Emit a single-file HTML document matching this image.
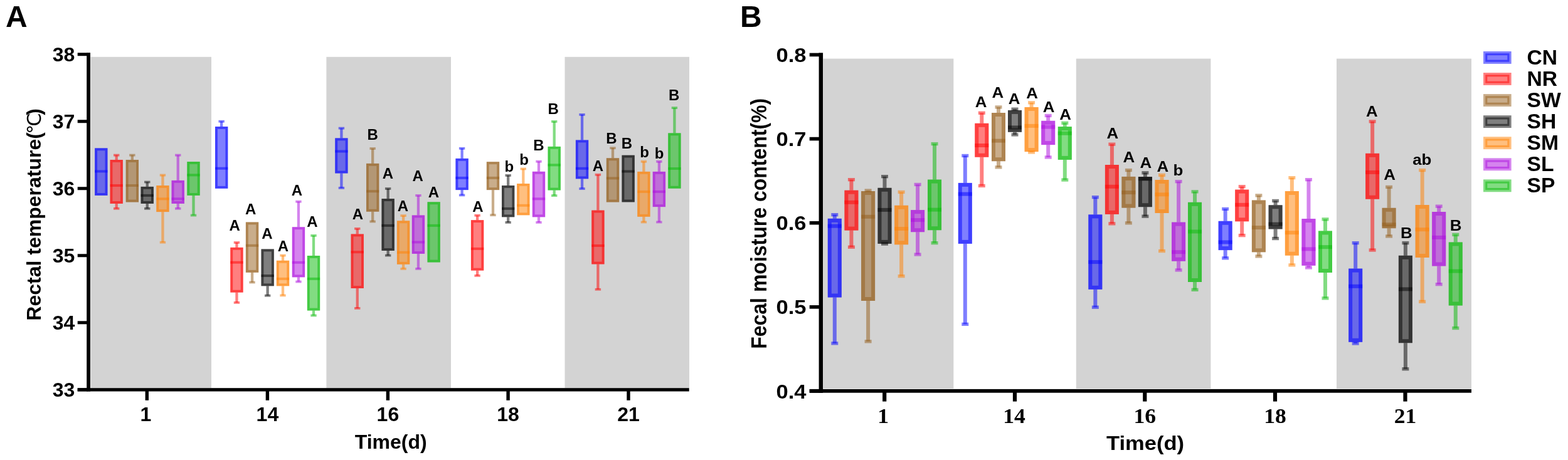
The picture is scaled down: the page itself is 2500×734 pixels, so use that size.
<!DOCTYPE html>
<html><head><meta charset="utf-8"><title>Figure</title>
<style>html,body{margin:0;padding:0;background:#fff;}svg{display:block;}text{font-family:'Liberation Sans', Arial, Helvetica, sans-serif;font-weight:bold;fill:#000;}.serif{font-family:'Liberation Serif', 'Times New Roman', serif;}</style>
</head><body>
<svg width="2500" height="734" viewBox="0 0 2500 734">
<rect x="0" y="0" width="2500" height="734" fill="#fff"/>
<rect x="144.6" y="90.8" width="192.4" height="528.4" fill="#d3d3d3"/>
<rect x="520.4" y="90.8" width="198.6" height="528.4" fill="#d3d3d3"/>
<rect x="900.5" y="90.8" width="198.5" height="528.4" fill="#d3d3d3"/>
<rect x="151.15" y="236.4" width="20.3" height="75.5" fill="rgb(0,0,255)" fill-opacity=".5"/>
<rect x="153.1" y="238.35" width="16.4" height="71.6" fill="none" stroke="rgb(0,0,255)" stroke-opacity=".5" stroke-width="3.9"/>
<rect x="151.15" y="271.4" width="20.3" height="4" fill="rgb(0,0,255)" fill-opacity=".5"/>
<rect x="183.55" y="247.6" width="4.3" height="7.4" fill="rgb(255,0,0)" fill-opacity=".5"/>
<rect x="181" y="245.7" width="9.4" height="3.8" fill="rgb(255,0,0)" fill-opacity=".5"/>
<rect x="183.55" y="324.9" width="4.3" height="7.9" fill="rgb(255,0,0)" fill-opacity=".5"/>
<rect x="181" y="330.9" width="9.4" height="3.8" fill="rgb(255,0,0)" fill-opacity=".5"/>
<rect x="175.55" y="255" width="20.3" height="69.9" fill="rgb(255,0,0)" fill-opacity=".5"/>
<rect x="177.5" y="256.95" width="16.4" height="66" fill="none" stroke="rgb(255,0,0)" stroke-opacity=".5" stroke-width="3.9"/>
<rect x="175.55" y="294" width="20.3" height="4" fill="rgb(255,0,0)" fill-opacity=".5"/>
<rect x="208.7" y="247.6" width="4.3" height="7.4" fill="rgb(148,92,24)" fill-opacity=".5"/>
<rect x="206.15" y="245.7" width="9.4" height="3.8" fill="rgb(148,92,24)" fill-opacity=".5"/>
<rect x="200.7" y="255" width="20.3" height="67.5" fill="rgb(148,92,24)" fill-opacity=".5"/>
<rect x="202.65" y="256.95" width="16.4" height="63.6" fill="none" stroke="rgb(148,92,24)" stroke-opacity=".5" stroke-width="3.9"/>
<rect x="200.7" y="294" width="20.3" height="4" fill="rgb(148,92,24)" fill-opacity=".5"/>
<rect x="232.6" y="290.5" width="4.3" height="7.4" fill="rgb(0,0,0)" fill-opacity=".5"/>
<rect x="230.05" y="288.6" width="9.4" height="3.8" fill="rgb(0,0,0)" fill-opacity=".5"/>
<rect x="232.6" y="324.9" width="4.3" height="7.9" fill="rgb(0,0,0)" fill-opacity=".5"/>
<rect x="230.05" y="330.9" width="9.4" height="3.8" fill="rgb(0,0,0)" fill-opacity=".5"/>
<rect x="224.6" y="297.9" width="20.3" height="27" fill="rgb(0,0,0)" fill-opacity=".5"/>
<rect x="226.55" y="299.85" width="16.4" height="23.1" fill="none" stroke="rgb(0,0,0)" stroke-opacity=".5" stroke-width="3.9"/>
<rect x="224.6" y="309.9" width="20.3" height="4" fill="rgb(0,0,0)" fill-opacity=".5"/>
<rect x="257.3" y="279.5" width="4.3" height="16.5" fill="rgb(255,128,0)" fill-opacity=".5"/>
<rect x="254.75" y="277.6" width="9.4" height="3.8" fill="rgb(255,128,0)" fill-opacity=".5"/>
<rect x="257.3" y="338.1" width="4.3" height="48.6" fill="rgb(255,128,0)" fill-opacity=".5"/>
<rect x="254.75" y="384.8" width="9.4" height="3.8" fill="rgb(255,128,0)" fill-opacity=".5"/>
<rect x="249.3" y="296" width="20.3" height="42.1" fill="rgb(255,128,0)" fill-opacity=".5"/>
<rect x="251.25" y="297.95" width="16.4" height="38.2" fill="none" stroke="rgb(255,128,0)" stroke-opacity=".5" stroke-width="3.9"/>
<rect x="249.3" y="315.3" width="20.3" height="4" fill="rgb(255,128,0)" fill-opacity=".5"/>
<rect x="281.6" y="247.6" width="4.3" height="40.3" fill="rgb(172,10,222)" fill-opacity=".5"/>
<rect x="279.05" y="245.7" width="9.4" height="3.8" fill="rgb(172,10,222)" fill-opacity=".5"/>
<rect x="281.6" y="324.9" width="4.3" height="7.9" fill="rgb(172,10,222)" fill-opacity=".5"/>
<rect x="279.05" y="330.9" width="9.4" height="3.8" fill="rgb(172,10,222)" fill-opacity=".5"/>
<rect x="273.6" y="287.9" width="20.3" height="37" fill="rgb(172,10,222)" fill-opacity=".5"/>
<rect x="275.55" y="289.85" width="16.4" height="33.1" fill="none" stroke="rgb(172,10,222)" stroke-opacity=".5" stroke-width="3.9"/>
<rect x="273.6" y="315.3" width="20.3" height="4" fill="rgb(172,10,222)" fill-opacity=".5"/>
<rect x="306.35" y="311.9" width="4.3" height="31.7" fill="rgb(5,185,5)" fill-opacity=".5"/>
<rect x="303.8" y="341.7" width="9.4" height="3.8" fill="rgb(5,185,5)" fill-opacity=".5"/>
<rect x="298.35" y="258" width="20.3" height="53.9" fill="rgb(5,185,5)" fill-opacity=".5"/>
<rect x="300.3" y="259.95" width="16.4" height="50" fill="none" stroke="rgb(5,185,5)" stroke-opacity=".5" stroke-width="3.9"/>
<rect x="298.35" y="277.3" width="20.3" height="4" fill="rgb(5,185,5)" fill-opacity=".5"/>
<rect x="351" y="193.7" width="4.3" height="8.3" fill="rgb(0,0,255)" fill-opacity=".5"/>
<rect x="348.45" y="191.8" width="9.4" height="3.8" fill="rgb(0,0,255)" fill-opacity=".5"/>
<rect x="343" y="202" width="20.3" height="98.8" fill="rgb(0,0,255)" fill-opacity=".5"/>
<rect x="344.95" y="203.95" width="16.4" height="94.9" fill="none" stroke="rgb(0,0,255)" stroke-opacity=".5" stroke-width="3.9"/>
<rect x="343" y="266.7" width="20.3" height="4" fill="rgb(0,0,255)" fill-opacity=".5"/>
<rect x="375.3" y="387" width="4.3" height="7.9" fill="rgb(255,0,0)" fill-opacity=".5"/>
<rect x="372.75" y="385.1" width="9.4" height="3.8" fill="rgb(255,0,0)" fill-opacity=".5"/>
<rect x="375.3" y="466.6" width="4.3" height="16.3" fill="rgb(255,0,0)" fill-opacity=".5"/>
<rect x="372.75" y="481" width="9.4" height="3.8" fill="rgb(255,0,0)" fill-opacity=".5"/>
<rect x="367.3" y="394.9" width="20.3" height="71.7" fill="rgb(255,0,0)" fill-opacity=".5"/>
<rect x="369.25" y="396.85" width="16.4" height="67.8" fill="none" stroke="rgb(255,0,0)" stroke-opacity=".5" stroke-width="3.9"/>
<rect x="367.3" y="416.7" width="20.3" height="4" fill="rgb(255,0,0)" fill-opacity=".5"/>
<rect x="399.9" y="434.8" width="4.3" height="15.7" fill="rgb(148,92,24)" fill-opacity=".5"/>
<rect x="397.35" y="448.6" width="9.4" height="3.8" fill="rgb(148,92,24)" fill-opacity=".5"/>
<rect x="391.9" y="354.5" width="20.3" height="80.3" fill="rgb(148,92,24)" fill-opacity=".5"/>
<rect x="393.85" y="356.45" width="16.4" height="76.4" fill="none" stroke="rgb(148,92,24)" stroke-opacity=".5" stroke-width="3.9"/>
<rect x="391.9" y="389.8" width="20.3" height="4" fill="rgb(148,92,24)" fill-opacity=".5"/>
<rect x="424.5" y="456.3" width="4.3" height="15.4" fill="rgb(0,0,0)" fill-opacity=".5"/>
<rect x="421.95" y="469.8" width="9.4" height="3.8" fill="rgb(0,0,0)" fill-opacity=".5"/>
<rect x="416.5" y="397.5" width="20.3" height="58.8" fill="rgb(0,0,0)" fill-opacity=".5"/>
<rect x="418.45" y="399.45" width="16.4" height="54.9" fill="none" stroke="rgb(0,0,0)" stroke-opacity=".5" stroke-width="3.9"/>
<rect x="416.5" y="438" width="20.3" height="4" fill="rgb(0,0,0)" fill-opacity=".5"/>
<rect x="448.85" y="407.6" width="4.3" height="8.2" fill="rgb(255,128,0)" fill-opacity=".5"/>
<rect x="446.3" y="405.7" width="9.4" height="3.8" fill="rgb(255,128,0)" fill-opacity=".5"/>
<rect x="448.85" y="456.3" width="4.3" height="15.1" fill="rgb(255,128,0)" fill-opacity=".5"/>
<rect x="446.3" y="469.5" width="9.4" height="3.8" fill="rgb(255,128,0)" fill-opacity=".5"/>
<rect x="440.85" y="415.8" width="20.3" height="40.5" fill="rgb(255,128,0)" fill-opacity=".5"/>
<rect x="442.8" y="417.75" width="16.4" height="36.6" fill="none" stroke="rgb(255,128,0)" stroke-opacity=".5" stroke-width="3.9"/>
<rect x="440.85" y="442.9" width="20.3" height="4" fill="rgb(255,128,0)" fill-opacity=".5"/>
<rect x="473.8" y="321.7" width="4.3" height="40.6" fill="rgb(172,10,222)" fill-opacity=".5"/>
<rect x="471.25" y="319.8" width="9.4" height="3.8" fill="rgb(172,10,222)" fill-opacity=".5"/>
<rect x="473.8" y="442.3" width="4.3" height="7.2" fill="rgb(172,10,222)" fill-opacity=".5"/>
<rect x="471.25" y="447.6" width="9.4" height="3.8" fill="rgb(172,10,222)" fill-opacity=".5"/>
<rect x="465.8" y="362.3" width="20.3" height="80" fill="rgb(172,10,222)" fill-opacity=".5"/>
<rect x="467.75" y="364.25" width="16.4" height="76.1" fill="none" stroke="rgb(172,10,222)" stroke-opacity=".5" stroke-width="3.9"/>
<rect x="465.8" y="416.8" width="20.3" height="4" fill="rgb(172,10,222)" fill-opacity=".5"/>
<rect x="497.85" y="375.9" width="4.3" height="32.1" fill="rgb(5,185,5)" fill-opacity=".5"/>
<rect x="495.3" y="374" width="9.4" height="3.8" fill="rgb(5,185,5)" fill-opacity=".5"/>
<rect x="497.85" y="495.5" width="4.3" height="7.9" fill="rgb(5,185,5)" fill-opacity=".5"/>
<rect x="495.3" y="501.5" width="9.4" height="3.8" fill="rgb(5,185,5)" fill-opacity=".5"/>
<rect x="489.85" y="408" width="20.3" height="87.5" fill="rgb(5,185,5)" fill-opacity=".5"/>
<rect x="491.8" y="409.95" width="16.4" height="83.6" fill="none" stroke="rgb(5,185,5)" stroke-opacity=".5" stroke-width="3.9"/>
<rect x="489.85" y="442.9" width="20.3" height="4" fill="rgb(5,185,5)" fill-opacity=".5"/>
<rect x="542.25" y="204.6" width="4.3" height="15.8" fill="rgb(0,0,255)" fill-opacity=".5"/>
<rect x="539.7" y="202.7" width="9.4" height="3.8" fill="rgb(0,0,255)" fill-opacity=".5"/>
<rect x="542.25" y="276.5" width="4.3" height="23.4" fill="rgb(0,0,255)" fill-opacity=".5"/>
<rect x="539.7" y="298" width="9.4" height="3.8" fill="rgb(0,0,255)" fill-opacity=".5"/>
<rect x="534.25" y="220.4" width="20.3" height="56.1" fill="rgb(0,0,255)" fill-opacity=".5"/>
<rect x="536.2" y="222.35" width="16.4" height="52.2" fill="none" stroke="rgb(0,0,255)" stroke-opacity=".5" stroke-width="3.9"/>
<rect x="534.25" y="239.5" width="20.3" height="4" fill="rgb(0,0,255)" fill-opacity=".5"/>
<rect x="567.6" y="364.9" width="4.3" height="8.6" fill="rgb(255,0,0)" fill-opacity=".5"/>
<rect x="565.05" y="363" width="9.4" height="3.8" fill="rgb(255,0,0)" fill-opacity=".5"/>
<rect x="567.6" y="460" width="4.3" height="31.9" fill="rgb(255,0,0)" fill-opacity=".5"/>
<rect x="565.05" y="490" width="9.4" height="3.8" fill="rgb(255,0,0)" fill-opacity=".5"/>
<rect x="559.6" y="373.5" width="20.3" height="86.5" fill="rgb(255,0,0)" fill-opacity=".5"/>
<rect x="561.55" y="375.45" width="16.4" height="82.6" fill="none" stroke="rgb(255,0,0)" stroke-opacity=".5" stroke-width="3.9"/>
<rect x="559.6" y="400.2" width="20.3" height="4" fill="rgb(255,0,0)" fill-opacity=".5"/>
<rect x="592" y="237" width="4.3" height="23.9" fill="rgb(148,92,24)" fill-opacity=".5"/>
<rect x="589.45" y="235.1" width="9.4" height="3.8" fill="rgb(148,92,24)" fill-opacity=".5"/>
<rect x="592" y="337.7" width="4.3" height="15.8" fill="rgb(148,92,24)" fill-opacity=".5"/>
<rect x="589.45" y="351.6" width="9.4" height="3.8" fill="rgb(148,92,24)" fill-opacity=".5"/>
<rect x="584" y="260.9" width="20.3" height="76.8" fill="rgb(148,92,24)" fill-opacity=".5"/>
<rect x="585.95" y="262.85" width="16.4" height="72.9" fill="none" stroke="rgb(148,92,24)" stroke-opacity=".5" stroke-width="3.9"/>
<rect x="584" y="303.2" width="20.3" height="4" fill="rgb(148,92,24)" fill-opacity=".5"/>
<rect x="616.5" y="301" width="4.3" height="16.1" fill="rgb(0,0,0)" fill-opacity=".5"/>
<rect x="613.95" y="299.1" width="9.4" height="3.8" fill="rgb(0,0,0)" fill-opacity=".5"/>
<rect x="616.5" y="400" width="4.3" height="7.6" fill="rgb(0,0,0)" fill-opacity=".5"/>
<rect x="613.95" y="405.7" width="9.4" height="3.8" fill="rgb(0,0,0)" fill-opacity=".5"/>
<rect x="608.5" y="317.1" width="20.3" height="82.9" fill="rgb(0,0,0)" fill-opacity=".5"/>
<rect x="610.45" y="319.05" width="16.4" height="79" fill="none" stroke="rgb(0,0,0)" stroke-opacity=".5" stroke-width="3.9"/>
<rect x="608.5" y="357.9" width="20.3" height="4" fill="rgb(0,0,0)" fill-opacity=".5"/>
<rect x="640.95" y="344.1" width="4.3" height="8.2" fill="rgb(255,128,0)" fill-opacity=".5"/>
<rect x="638.4" y="342.2" width="9.4" height="3.8" fill="rgb(255,128,0)" fill-opacity=".5"/>
<rect x="640.95" y="421.8" width="4.3" height="7.1" fill="rgb(255,128,0)" fill-opacity=".5"/>
<rect x="638.4" y="427" width="9.4" height="3.8" fill="rgb(255,128,0)" fill-opacity=".5"/>
<rect x="632.95" y="352.3" width="20.3" height="69.5" fill="rgb(255,128,0)" fill-opacity=".5"/>
<rect x="634.9" y="354.25" width="16.4" height="65.6" fill="none" stroke="rgb(255,128,0)" stroke-opacity=".5" stroke-width="3.9"/>
<rect x="632.95" y="400.7" width="20.3" height="4" fill="rgb(255,128,0)" fill-opacity=".5"/>
<rect x="664.8" y="311.9" width="4.3" height="31.6" fill="rgb(172,10,222)" fill-opacity=".5"/>
<rect x="662.25" y="310" width="9.4" height="3.8" fill="rgb(172,10,222)" fill-opacity=".5"/>
<rect x="664.8" y="404.9" width="4.3" height="24" fill="rgb(172,10,222)" fill-opacity=".5"/>
<rect x="662.25" y="427" width="9.4" height="3.8" fill="rgb(172,10,222)" fill-opacity=".5"/>
<rect x="656.8" y="343.5" width="20.3" height="61.4" fill="rgb(172,10,222)" fill-opacity=".5"/>
<rect x="658.75" y="345.45" width="16.4" height="57.5" fill="none" stroke="rgb(172,10,222)" stroke-opacity=".5" stroke-width="3.9"/>
<rect x="656.8" y="384.4" width="20.3" height="4" fill="rgb(172,10,222)" fill-opacity=".5"/>
<rect x="681.5" y="322.3" width="20.3" height="96.2" fill="rgb(5,185,5)" fill-opacity=".5"/>
<rect x="683.45" y="324.25" width="16.4" height="92.3" fill="none" stroke="rgb(5,185,5)" stroke-opacity=".5" stroke-width="3.9"/>
<rect x="681.5" y="357.9" width="20.3" height="4" fill="rgb(5,185,5)" fill-opacity=".5"/>
<rect x="734.45" y="236.8" width="4.3" height="16.1" fill="rgb(0,0,255)" fill-opacity=".5"/>
<rect x="731.9" y="234.9" width="9.4" height="3.8" fill="rgb(0,0,255)" fill-opacity=".5"/>
<rect x="734.45" y="303.1" width="4.3" height="8.3" fill="rgb(0,0,255)" fill-opacity=".5"/>
<rect x="731.9" y="309.5" width="9.4" height="3.8" fill="rgb(0,0,255)" fill-opacity=".5"/>
<rect x="726.45" y="252.9" width="20.3" height="50.2" fill="rgb(0,0,255)" fill-opacity=".5"/>
<rect x="728.4" y="254.85" width="16.4" height="46.3" fill="none" stroke="rgb(0,0,255)" stroke-opacity=".5" stroke-width="3.9"/>
<rect x="726.45" y="281.9" width="20.3" height="4" fill="rgb(0,0,255)" fill-opacity=".5"/>
<rect x="758.95" y="343.7" width="4.3" height="7.5" fill="rgb(255,0,0)" fill-opacity=".5"/>
<rect x="756.4" y="341.8" width="9.4" height="3.8" fill="rgb(255,0,0)" fill-opacity=".5"/>
<rect x="758.95" y="431.6" width="4.3" height="8.3" fill="rgb(255,0,0)" fill-opacity=".5"/>
<rect x="756.4" y="438" width="9.4" height="3.8" fill="rgb(255,0,0)" fill-opacity=".5"/>
<rect x="750.95" y="351.2" width="20.3" height="80.4" fill="rgb(255,0,0)" fill-opacity=".5"/>
<rect x="752.9" y="353.15" width="16.4" height="76.5" fill="none" stroke="rgb(255,0,0)" stroke-opacity=".5" stroke-width="3.9"/>
<rect x="750.95" y="394.9" width="20.3" height="4" fill="rgb(255,0,0)" fill-opacity=".5"/>
<rect x="783.85" y="303.1" width="4.3" height="40.1" fill="rgb(148,92,24)" fill-opacity=".5"/>
<rect x="781.3" y="341.3" width="9.4" height="3.8" fill="rgb(148,92,24)" fill-opacity=".5"/>
<rect x="775.85" y="258.2" width="20.3" height="44.9" fill="rgb(148,92,24)" fill-opacity=".5"/>
<rect x="777.8" y="260.15" width="16.4" height="41" fill="none" stroke="rgb(148,92,24)" stroke-opacity=".5" stroke-width="3.9"/>
<rect x="775.85" y="281.9" width="20.3" height="4" fill="rgb(148,92,24)" fill-opacity=".5"/>
<rect x="808" y="279.9" width="4.3" height="16.1" fill="rgb(0,0,0)" fill-opacity=".5"/>
<rect x="805.45" y="278" width="9.4" height="3.8" fill="rgb(0,0,0)" fill-opacity=".5"/>
<rect x="808" y="346.3" width="4.3" height="8.6" fill="rgb(0,0,0)" fill-opacity=".5"/>
<rect x="805.45" y="353" width="9.4" height="3.8" fill="rgb(0,0,0)" fill-opacity=".5"/>
<rect x="800" y="296" width="20.3" height="50.3" fill="rgb(0,0,0)" fill-opacity=".5"/>
<rect x="801.95" y="297.95" width="16.4" height="46.4" fill="none" stroke="rgb(0,0,0)" stroke-opacity=".5" stroke-width="3.9"/>
<rect x="800" y="330.9" width="20.3" height="4" fill="rgb(0,0,0)" fill-opacity=".5"/>
<rect x="832.15" y="269.4" width="4.3" height="23.6" fill="rgb(255,128,0)" fill-opacity=".5"/>
<rect x="829.6" y="267.5" width="9.4" height="3.8" fill="rgb(255,128,0)" fill-opacity=".5"/>
<rect x="824.15" y="293" width="20.3" height="50.3" fill="rgb(255,128,0)" fill-opacity=".5"/>
<rect x="826.1" y="294.95" width="16.4" height="46.4" fill="none" stroke="rgb(255,128,0)" stroke-opacity=".5" stroke-width="3.9"/>
<rect x="824.15" y="325.8" width="20.3" height="4" fill="rgb(255,128,0)" fill-opacity=".5"/>
<rect x="856.85" y="257.7" width="4.3" height="16.1" fill="rgb(172,10,222)" fill-opacity=".5"/>
<rect x="854.3" y="255.8" width="9.4" height="3.8" fill="rgb(172,10,222)" fill-opacity=".5"/>
<rect x="856.85" y="346.3" width="4.3" height="8.6" fill="rgb(172,10,222)" fill-opacity=".5"/>
<rect x="854.3" y="353" width="9.4" height="3.8" fill="rgb(172,10,222)" fill-opacity=".5"/>
<rect x="848.85" y="273.8" width="20.3" height="72.5" fill="rgb(172,10,222)" fill-opacity=".5"/>
<rect x="850.8" y="275.75" width="16.4" height="68.6" fill="none" stroke="rgb(172,10,222)" stroke-opacity=".5" stroke-width="3.9"/>
<rect x="848.85" y="315.3" width="20.3" height="4" fill="rgb(172,10,222)" fill-opacity=".5"/>
<rect x="881.55" y="193.9" width="4.3" height="40" fill="rgb(5,185,5)" fill-opacity=".5"/>
<rect x="879" y="192" width="9.4" height="3.8" fill="rgb(5,185,5)" fill-opacity=".5"/>
<rect x="881.55" y="303.5" width="4.3" height="8.6" fill="rgb(5,185,5)" fill-opacity=".5"/>
<rect x="879" y="310.2" width="9.4" height="3.8" fill="rgb(5,185,5)" fill-opacity=".5"/>
<rect x="873.55" y="233.9" width="20.3" height="69.6" fill="rgb(5,185,5)" fill-opacity=".5"/>
<rect x="875.5" y="235.85" width="16.4" height="65.7" fill="none" stroke="rgb(5,185,5)" stroke-opacity=".5" stroke-width="3.9"/>
<rect x="873.55" y="261.3" width="20.3" height="4" fill="rgb(5,185,5)" fill-opacity=".5"/>
<rect x="925.9" y="182.9" width="4.3" height="40.6" fill="rgb(0,0,255)" fill-opacity=".5"/>
<rect x="923.35" y="181" width="9.4" height="3.8" fill="rgb(0,0,255)" fill-opacity=".5"/>
<rect x="925.9" y="285.3" width="4.3" height="15.8" fill="rgb(0,0,255)" fill-opacity=".5"/>
<rect x="923.35" y="299.2" width="9.4" height="3.8" fill="rgb(0,0,255)" fill-opacity=".5"/>
<rect x="917.9" y="223.5" width="20.3" height="61.8" fill="rgb(0,0,255)" fill-opacity=".5"/>
<rect x="919.85" y="225.45" width="16.4" height="57.9" fill="none" stroke="rgb(0,0,255)" stroke-opacity=".5" stroke-width="3.9"/>
<rect x="917.9" y="266.8" width="20.3" height="4" fill="rgb(0,0,255)" fill-opacity=".5"/>
<rect x="951.25" y="278.8" width="4.3" height="56.8" fill="rgb(255,0,0)" fill-opacity=".5"/>
<rect x="948.7" y="276.9" width="9.4" height="3.8" fill="rgb(255,0,0)" fill-opacity=".5"/>
<rect x="951.25" y="421.5" width="4.3" height="40.3" fill="rgb(255,0,0)" fill-opacity=".5"/>
<rect x="948.7" y="459.9" width="9.4" height="3.8" fill="rgb(255,0,0)" fill-opacity=".5"/>
<rect x="943.25" y="335.6" width="20.3" height="85.9" fill="rgb(255,0,0)" fill-opacity=".5"/>
<rect x="945.2" y="337.55" width="16.4" height="82" fill="none" stroke="rgb(255,0,0)" stroke-opacity=".5" stroke-width="3.9"/>
<rect x="943.25" y="390" width="20.3" height="4" fill="rgb(255,0,0)" fill-opacity=".5"/>
<rect x="974.85" y="236.2" width="4.3" height="16.1" fill="rgb(148,92,24)" fill-opacity=".5"/>
<rect x="972.3" y="234.3" width="9.4" height="3.8" fill="rgb(148,92,24)" fill-opacity=".5"/>
<rect x="966.85" y="252.3" width="20.3" height="70.2" fill="rgb(148,92,24)" fill-opacity=".5"/>
<rect x="968.8" y="254.25" width="16.4" height="66.3" fill="none" stroke="rgb(148,92,24)" stroke-opacity=".5" stroke-width="3.9"/>
<rect x="966.85" y="282.4" width="20.3" height="4" fill="rgb(148,92,24)" fill-opacity=".5"/>
<rect x="991.5" y="247.7" width="20.3" height="74.7" fill="rgb(0,0,0)" fill-opacity=".5"/>
<rect x="993.45" y="249.65" width="16.4" height="70.8" fill="none" stroke="rgb(0,0,0)" stroke-opacity=".5" stroke-width="3.9"/>
<rect x="991.5" y="271.5" width="20.3" height="4" fill="rgb(0,0,0)" fill-opacity=".5"/>
<rect x="1024.25" y="257.8" width="4.3" height="16.1" fill="rgb(255,128,0)" fill-opacity=".5"/>
<rect x="1021.7" y="255.9" width="9.4" height="3.8" fill="rgb(255,128,0)" fill-opacity=".5"/>
<rect x="1024.25" y="345.8" width="4.3" height="8.6" fill="rgb(255,128,0)" fill-opacity=".5"/>
<rect x="1021.7" y="352.5" width="9.4" height="3.8" fill="rgb(255,128,0)" fill-opacity=".5"/>
<rect x="1016.25" y="273.9" width="20.3" height="71.9" fill="rgb(255,128,0)" fill-opacity=".5"/>
<rect x="1018.2" y="275.85" width="16.4" height="68" fill="none" stroke="rgb(255,128,0)" stroke-opacity=".5" stroke-width="3.9"/>
<rect x="1016.25" y="303.9" width="20.3" height="4" fill="rgb(255,128,0)" fill-opacity=".5"/>
<rect x="1048.75" y="257.8" width="4.3" height="16.1" fill="rgb(172,10,222)" fill-opacity=".5"/>
<rect x="1046.2" y="255.9" width="9.4" height="3.8" fill="rgb(172,10,222)" fill-opacity=".5"/>
<rect x="1048.75" y="330.1" width="4.3" height="24.3" fill="rgb(172,10,222)" fill-opacity=".5"/>
<rect x="1046.2" y="352.5" width="9.4" height="3.8" fill="rgb(172,10,222)" fill-opacity=".5"/>
<rect x="1040.75" y="273.9" width="20.3" height="56.2" fill="rgb(172,10,222)" fill-opacity=".5"/>
<rect x="1042.7" y="275.85" width="16.4" height="52.3" fill="none" stroke="rgb(172,10,222)" stroke-opacity=".5" stroke-width="3.9"/>
<rect x="1040.75" y="303.9" width="20.3" height="4" fill="rgb(172,10,222)" fill-opacity=".5"/>
<rect x="1073.25" y="172.1" width="4.3" height="40.3" fill="rgb(5,185,5)" fill-opacity=".5"/>
<rect x="1070.7" y="170.2" width="9.4" height="3.8" fill="rgb(5,185,5)" fill-opacity=".5"/>
<rect x="1065.25" y="212.4" width="20.3" height="88.3" fill="rgb(5,185,5)" fill-opacity=".5"/>
<rect x="1067.2" y="214.35" width="16.4" height="84.4" fill="none" stroke="rgb(5,185,5)" stroke-opacity=".5" stroke-width="3.9"/>
<rect x="1065.25" y="267" width="20.3" height="4" fill="rgb(5,185,5)" fill-opacity=".5"/>
<rect x="138.2" y="84.1" width="5.8" height="540.4" fill="#000"/>
<rect x="123.7" y="619.2" width="975" height="5.3" fill="#000"/>
<rect x="123.7" y="619.3" width="16" height="5" fill="#000"/>
<text x="119.3" y="633.3" font-size="32" text-anchor="end">33</text>
<rect x="123.7" y="512.28" width="16" height="5" fill="#000"/>
<text x="119.3" y="526.28" font-size="32" text-anchor="end">34</text>
<rect x="123.7" y="405.26" width="16" height="5" fill="#000"/>
<text x="119.3" y="419.26" font-size="32" text-anchor="end">35</text>
<rect x="123.7" y="298.24" width="16" height="5" fill="#000"/>
<text x="119.3" y="312.24" font-size="32" text-anchor="end">36</text>
<rect x="123.7" y="191.22" width="16" height="5" fill="#000"/>
<text x="119.3" y="205.22" font-size="32" text-anchor="end">37</text>
<rect x="123.7" y="84.2" width="16" height="5" fill="#000"/>
<text x="119.3" y="98.2" font-size="32" text-anchor="end">38</text>
<rect x="231.6" y="622" width="5.4" height="16.8" fill="#000"/>
<text x="232.5" y="672.3" font-size="32" text-anchor="middle">1</text>
<rect x="423.7" y="622" width="5.4" height="16.8" fill="#000"/>
<text x="426.4" y="672.3" font-size="32" text-anchor="middle">14</text>
<rect x="615.7" y="622" width="5.4" height="16.8" fill="#000"/>
<text x="618.4" y="672.3" font-size="32" text-anchor="middle">16</text>
<rect x="807.4" y="622" width="5.4" height="16.8" fill="#000"/>
<text x="810.1" y="672.3" font-size="32" text-anchor="middle">18</text>
<rect x="999.3" y="622" width="5.4" height="16.8" fill="#000"/>
<text x="1002" y="672.3" font-size="32" text-anchor="middle">21</text>
<text x="623.2" y="716.4" font-size="32" text-anchor="middle">Time(d)</text>
<g transform="translate(64.9,509.7) rotate(-90)">
<text x="-2" y="0" font-size="32">Rectal temperature(</text>
<text x="296" y="0" font-size="30" style="font-family:'DejaVu Sans','Noto Sans CJK SC',sans-serif;font-weight:normal">℃</text>
<text x="326" y="0" font-size="32">)</text>
</g>
<text x="9" y="43" font-size="48">A</text>
<text x="374.1" y="367.5" font-size="24" text-anchor="middle">A</text>
<text x="399.6" y="342" font-size="24" text-anchor="middle">A</text>
<text x="426" y="381.2" font-size="24" text-anchor="middle">A</text>
<text x="451.4" y="400.8" font-size="24" text-anchor="middle">A</text>
<text x="473.4" y="311.7" font-size="24" text-anchor="middle">A</text>
<text x="497.9" y="361.6" font-size="24" text-anchor="middle">A</text>
<text x="570.5" y="350.3" font-size="24" text-anchor="middle">A</text>
<text x="594.2" y="222.9" font-size="24" text-anchor="middle">B</text>
<text x="618.5" y="284.9" font-size="24" text-anchor="middle">A</text>
<text x="642.3" y="337.3" font-size="24" text-anchor="middle">A</text>
<text x="666.2" y="288.7" font-size="24" text-anchor="middle">A</text>
<text x="691.4" y="315.4" font-size="24" text-anchor="middle">A</text>
<text x="762" y="337.8" font-size="24" text-anchor="middle">A</text>
<text x="811.8" y="273.5" font-size="24" text-anchor="middle">b</text>
<text x="835.5" y="263.3" font-size="24" text-anchor="middle">b</text>
<text x="858.9" y="239.9" font-size="24" text-anchor="middle">B</text>
<text x="882.2" y="182.1" font-size="24" text-anchor="middle">B</text>
<text x="953.3" y="273.3" font-size="24" text-anchor="middle">A</text>
<text x="974.9" y="228.9" font-size="24" text-anchor="middle">B</text>
<text x="999.3" y="237.3" font-size="24" text-anchor="middle">B</text>
<text x="1027.5" y="251" font-size="24" text-anchor="middle">b</text>
<text x="1051" y="253.3" font-size="24" text-anchor="middle">b</text>
<text x="1074.6" y="160.1" font-size="24" text-anchor="middle">B</text>
<rect x="1312.6" y="93.6" width="207.7" height="526.4" fill="#d3d3d3"/>
<rect x="1715.8" y="93.6" width="214.6" height="526.4" fill="#d3d3d3"/>
<rect x="2131" y="93.6" width="215" height="526.4" fill="#d3d3d3"/>
<rect x="1327.8" y="342.65" width="6" height="6.15" fill="rgb(0,0,255)" fill-opacity=".5"/>
<rect x="1325.3" y="340" width="11" height="5.3" fill="rgb(0,0,255)" fill-opacity=".5"/>
<rect x="1327.8" y="474.5" width="6" height="73.35" fill="rgb(0,0,255)" fill-opacity=".5"/>
<rect x="1325.3" y="545.2" width="11" height="5.3" fill="rgb(0,0,255)" fill-opacity=".5"/>
<rect x="1319.8" y="348.8" width="22" height="125.7" fill="rgb(0,0,255)" fill-opacity=".5"/>
<rect x="1322.8" y="351.8" width="16" height="119.7" fill="none" stroke="rgb(0,0,255)" stroke-opacity=".5" stroke-width="6"/>
<rect x="1319.8" y="357.7" width="22" height="6" fill="rgb(0,0,255)" fill-opacity=".5"/>
<rect x="1354.45" y="286.65" width="6" height="17.05" fill="rgb(255,0,0)" fill-opacity=".5"/>
<rect x="1351.95" y="284" width="11" height="5.3" fill="rgb(255,0,0)" fill-opacity=".5"/>
<rect x="1354.45" y="367.6" width="6" height="26.65" fill="rgb(255,0,0)" fill-opacity=".5"/>
<rect x="1351.95" y="391.6" width="11" height="5.3" fill="rgb(255,0,0)" fill-opacity=".5"/>
<rect x="1346.45" y="303.7" width="22" height="63.9" fill="rgb(255,0,0)" fill-opacity=".5"/>
<rect x="1349.45" y="306.7" width="16" height="57.9" fill="none" stroke="rgb(255,0,0)" stroke-opacity=".5" stroke-width="6"/>
<rect x="1346.45" y="319.8" width="22" height="6" fill="rgb(255,0,0)" fill-opacity=".5"/>
<rect x="1381.1" y="304.05" width="6" height="0.95" fill="rgb(148,92,24)" fill-opacity=".5"/>
<rect x="1378.6" y="301.4" width="11" height="5.3" fill="rgb(148,92,24)" fill-opacity=".5"/>
<rect x="1381.1" y="480" width="6" height="64.85" fill="rgb(148,92,24)" fill-opacity=".5"/>
<rect x="1378.6" y="542.2" width="11" height="5.3" fill="rgb(148,92,24)" fill-opacity=".5"/>
<rect x="1373.1" y="305" width="22" height="175" fill="rgb(148,92,24)" fill-opacity=".5"/>
<rect x="1376.1" y="308" width="16" height="169" fill="none" stroke="rgb(148,92,24)" stroke-opacity=".5" stroke-width="6"/>
<rect x="1373.1" y="342.8" width="22" height="6" fill="rgb(148,92,24)" fill-opacity=".5"/>
<rect x="1407.5" y="281.65" width="6" height="18.15" fill="rgb(0,0,0)" fill-opacity=".5"/>
<rect x="1405" y="279" width="11" height="5.3" fill="rgb(0,0,0)" fill-opacity=".5"/>
<rect x="1407.5" y="388.9" width="6" height="0.25" fill="rgb(0,0,0)" fill-opacity=".5"/>
<rect x="1405" y="386.5" width="11" height="5.3" fill="rgb(0,0,0)" fill-opacity=".5"/>
<rect x="1399.5" y="299.8" width="22" height="89.1" fill="rgb(0,0,0)" fill-opacity=".5"/>
<rect x="1402.5" y="302.8" width="16" height="83.1" fill="none" stroke="rgb(0,0,0)" stroke-opacity=".5" stroke-width="6"/>
<rect x="1399.5" y="331.9" width="22" height="6" fill="rgb(0,0,0)" fill-opacity=".5"/>
<rect x="1434.15" y="306.45" width="6" height="21.35" fill="rgb(255,128,0)" fill-opacity=".5"/>
<rect x="1431.65" y="303.8" width="11" height="5.3" fill="rgb(255,128,0)" fill-opacity=".5"/>
<rect x="1434.15" y="390.3" width="6" height="50.35" fill="rgb(255,128,0)" fill-opacity=".5"/>
<rect x="1431.65" y="438" width="11" height="5.3" fill="rgb(255,128,0)" fill-opacity=".5"/>
<rect x="1426.15" y="327.8" width="22" height="62.5" fill="rgb(255,128,0)" fill-opacity=".5"/>
<rect x="1429.15" y="330.8" width="16" height="56.5" fill="none" stroke="rgb(255,128,0)" stroke-opacity=".5" stroke-width="6"/>
<rect x="1426.15" y="362" width="22" height="6" fill="rgb(255,128,0)" fill-opacity=".5"/>
<rect x="1460.1" y="294.45" width="6" height="40.65" fill="rgb(172,10,222)" fill-opacity=".5"/>
<rect x="1457.6" y="291.8" width="11" height="5.3" fill="rgb(172,10,222)" fill-opacity=".5"/>
<rect x="1460.1" y="370.2" width="6" height="35.85" fill="rgb(172,10,222)" fill-opacity=".5"/>
<rect x="1457.6" y="403.4" width="11" height="5.3" fill="rgb(172,10,222)" fill-opacity=".5"/>
<rect x="1452.1" y="335.1" width="22" height="35.1" fill="rgb(172,10,222)" fill-opacity=".5"/>
<rect x="1455.1" y="338.1" width="16" height="29.1" fill="none" stroke="rgb(172,10,222)" stroke-opacity=".5" stroke-width="6"/>
<rect x="1452.1" y="348.1" width="22" height="6" fill="rgb(172,10,222)" fill-opacity=".5"/>
<rect x="1487.05" y="229.55" width="6" height="57.05" fill="rgb(5,185,5)" fill-opacity=".5"/>
<rect x="1484.55" y="226.9" width="11" height="5.3" fill="rgb(5,185,5)" fill-opacity=".5"/>
<rect x="1487.05" y="367.2" width="6" height="20.45" fill="rgb(5,185,5)" fill-opacity=".5"/>
<rect x="1484.55" y="385" width="11" height="5.3" fill="rgb(5,185,5)" fill-opacity=".5"/>
<rect x="1479.05" y="286.6" width="22" height="80.6" fill="rgb(5,185,5)" fill-opacity=".5"/>
<rect x="1482.05" y="289.6" width="16" height="74.6" fill="none" stroke="rgb(5,185,5)" stroke-opacity=".5" stroke-width="6"/>
<rect x="1479.05" y="331.6" width="22" height="6" fill="rgb(5,185,5)" fill-opacity=".5"/>
<rect x="1535.8" y="248.45" width="6" height="43.45" fill="rgb(0,0,255)" fill-opacity=".5"/>
<rect x="1533.3" y="245.8" width="11" height="5.3" fill="rgb(0,0,255)" fill-opacity=".5"/>
<rect x="1535.8" y="388.9" width="6" height="128.45" fill="rgb(0,0,255)" fill-opacity=".5"/>
<rect x="1533.3" y="514.7" width="11" height="5.3" fill="rgb(0,0,255)" fill-opacity=".5"/>
<rect x="1527.8" y="291.9" width="22" height="97" fill="rgb(0,0,255)" fill-opacity=".5"/>
<rect x="1530.8" y="294.9" width="16" height="91" fill="none" stroke="rgb(0,0,255)" stroke-opacity=".5" stroke-width="6"/>
<rect x="1527.8" y="306.6" width="22" height="6" fill="rgb(0,0,255)" fill-opacity=".5"/>
<rect x="1562.3" y="180.25" width="6" height="16.55" fill="rgb(255,0,0)" fill-opacity=".5"/>
<rect x="1559.8" y="177.6" width="11" height="5.3" fill="rgb(255,0,0)" fill-opacity=".5"/>
<rect x="1562.3" y="250.7" width="6" height="45.75" fill="rgb(255,0,0)" fill-opacity=".5"/>
<rect x="1559.8" y="293.8" width="11" height="5.3" fill="rgb(255,0,0)" fill-opacity=".5"/>
<rect x="1554.3" y="196.8" width="22" height="53.9" fill="rgb(255,0,0)" fill-opacity=".5"/>
<rect x="1557.3" y="199.8" width="16" height="47.9" fill="none" stroke="rgb(255,0,0)" stroke-opacity=".5" stroke-width="6"/>
<rect x="1554.3" y="229" width="22" height="6" fill="rgb(255,0,0)" fill-opacity=".5"/>
<rect x="1589" y="170.95" width="6" height="9.05" fill="rgb(148,92,24)" fill-opacity=".5"/>
<rect x="1586.5" y="168.3" width="11" height="5.3" fill="rgb(148,92,24)" fill-opacity=".5"/>
<rect x="1589" y="257.2" width="6" height="9.65" fill="rgb(148,92,24)" fill-opacity=".5"/>
<rect x="1586.5" y="264.2" width="11" height="5.3" fill="rgb(148,92,24)" fill-opacity=".5"/>
<rect x="1581" y="180" width="22" height="77.2" fill="rgb(148,92,24)" fill-opacity=".5"/>
<rect x="1584" y="183" width="16" height="71.2" fill="none" stroke="rgb(148,92,24)" stroke-opacity=".5" stroke-width="6"/>
<rect x="1581" y="221.6" width="22" height="6" fill="rgb(148,92,24)" fill-opacity=".5"/>
<rect x="1615" y="174.15" width="6" height="1.75" fill="rgb(0,0,0)" fill-opacity=".5"/>
<rect x="1612.5" y="171.5" width="11" height="5.3" fill="rgb(0,0,0)" fill-opacity=".5"/>
<rect x="1615" y="210.7" width="6" height="4.25" fill="rgb(0,0,0)" fill-opacity=".5"/>
<rect x="1612.5" y="212.3" width="11" height="5.3" fill="rgb(0,0,0)" fill-opacity=".5"/>
<rect x="1607" y="175.9" width="22" height="34.8" fill="rgb(0,0,0)" fill-opacity=".5"/>
<rect x="1610" y="178.9" width="16" height="28.8" fill="none" stroke="rgb(0,0,0)" stroke-opacity=".5" stroke-width="6"/>
<rect x="1607" y="200.4" width="22" height="6" fill="rgb(0,0,0)" fill-opacity=".5"/>
<rect x="1641.6" y="163.85" width="6" height="7.15" fill="rgb(255,128,0)" fill-opacity=".5"/>
<rect x="1639.1" y="161.2" width="11" height="5.3" fill="rgb(255,128,0)" fill-opacity=".5"/>
<rect x="1641.6" y="242.1" width="6" height="0.85" fill="rgb(255,128,0)" fill-opacity=".5"/>
<rect x="1639.1" y="240.3" width="11" height="5.3" fill="rgb(255,128,0)" fill-opacity=".5"/>
<rect x="1633.6" y="171" width="22" height="71.1" fill="rgb(255,128,0)" fill-opacity=".5"/>
<rect x="1636.6" y="174" width="16" height="65.1" fill="none" stroke="rgb(255,128,0)" stroke-opacity=".5" stroke-width="6"/>
<rect x="1633.6" y="197.9" width="22" height="6" fill="rgb(255,128,0)" fill-opacity=".5"/>
<rect x="1668.2" y="184.45" width="6" height="8.35" fill="rgb(172,10,222)" fill-opacity=".5"/>
<rect x="1665.7" y="181.8" width="11" height="5.3" fill="rgb(172,10,222)" fill-opacity=".5"/>
<rect x="1668.2" y="231.1" width="6" height="19.85" fill="rgb(172,10,222)" fill-opacity=".5"/>
<rect x="1665.7" y="248.3" width="11" height="5.3" fill="rgb(172,10,222)" fill-opacity=".5"/>
<rect x="1660.2" y="192.8" width="22" height="38.3" fill="rgb(172,10,222)" fill-opacity=".5"/>
<rect x="1663.2" y="195.8" width="16" height="32.3" fill="none" stroke="rgb(172,10,222)" stroke-opacity=".5" stroke-width="6"/>
<rect x="1660.2" y="199.6" width="22" height="6" fill="rgb(172,10,222)" fill-opacity=".5"/>
<rect x="1694.8" y="196.25" width="6" height="5.85" fill="rgb(5,185,5)" fill-opacity=".5"/>
<rect x="1692.3" y="193.6" width="11" height="5.3" fill="rgb(5,185,5)" fill-opacity=".5"/>
<rect x="1694.8" y="254.9" width="6" height="32.15" fill="rgb(5,185,5)" fill-opacity=".5"/>
<rect x="1692.3" y="284.4" width="11" height="5.3" fill="rgb(5,185,5)" fill-opacity=".5"/>
<rect x="1686.8" y="202.1" width="22" height="52.8" fill="rgb(5,185,5)" fill-opacity=".5"/>
<rect x="1689.8" y="205.1" width="16" height="46.8" fill="none" stroke="rgb(5,185,5)" stroke-opacity=".5" stroke-width="6"/>
<rect x="1686.8" y="209.7" width="22" height="6" fill="rgb(5,185,5)" fill-opacity=".5"/>
<rect x="1743.35" y="314.65" width="6" height="27.75" fill="rgb(0,0,255)" fill-opacity=".5"/>
<rect x="1740.85" y="312" width="11" height="5.3" fill="rgb(0,0,255)" fill-opacity=".5"/>
<rect x="1743.35" y="461.8" width="6" height="28.45" fill="rgb(0,0,255)" fill-opacity=".5"/>
<rect x="1740.85" y="487.6" width="11" height="5.3" fill="rgb(0,0,255)" fill-opacity=".5"/>
<rect x="1735.35" y="342.4" width="22" height="119.4" fill="rgb(0,0,255)" fill-opacity=".5"/>
<rect x="1738.35" y="345.4" width="16" height="113.4" fill="none" stroke="rgb(0,0,255)" stroke-opacity=".5" stroke-width="6"/>
<rect x="1735.35" y="415.1" width="22" height="6" fill="rgb(0,0,255)" fill-opacity=".5"/>
<rect x="1769.9" y="230.15" width="6" height="32.85" fill="rgb(255,0,0)" fill-opacity=".5"/>
<rect x="1767.4" y="227.5" width="11" height="5.3" fill="rgb(255,0,0)" fill-opacity=".5"/>
<rect x="1769.9" y="341.9" width="6" height="14.95" fill="rgb(255,0,0)" fill-opacity=".5"/>
<rect x="1767.4" y="354.2" width="11" height="5.3" fill="rgb(255,0,0)" fill-opacity=".5"/>
<rect x="1761.9" y="263" width="22" height="78.9" fill="rgb(255,0,0)" fill-opacity=".5"/>
<rect x="1764.9" y="266" width="16" height="72.9" fill="none" stroke="rgb(255,0,0)" stroke-opacity=".5" stroke-width="6"/>
<rect x="1761.9" y="294.8" width="22" height="6" fill="rgb(255,0,0)" fill-opacity=".5"/>
<rect x="1796.4" y="271.55" width="6" height="10.35" fill="rgb(148,92,24)" fill-opacity=".5"/>
<rect x="1793.9" y="268.9" width="11" height="5.3" fill="rgb(148,92,24)" fill-opacity=".5"/>
<rect x="1796.4" y="331.6" width="6" height="24.25" fill="rgb(148,92,24)" fill-opacity=".5"/>
<rect x="1793.9" y="353.2" width="11" height="5.3" fill="rgb(148,92,24)" fill-opacity=".5"/>
<rect x="1788.4" y="281.9" width="22" height="49.7" fill="rgb(148,92,24)" fill-opacity=".5"/>
<rect x="1791.4" y="284.9" width="16" height="43.7" fill="none" stroke="rgb(148,92,24)" stroke-opacity=".5" stroke-width="6"/>
<rect x="1788.4" y="304.1" width="22" height="6" fill="rgb(148,92,24)" fill-opacity=".5"/>
<rect x="1822.9" y="275.75" width="6" height="6.35" fill="rgb(0,0,0)" fill-opacity=".5"/>
<rect x="1820.4" y="273.1" width="11" height="5.3" fill="rgb(0,0,0)" fill-opacity=".5"/>
<rect x="1822.9" y="330.2" width="6" height="14.95" fill="rgb(0,0,0)" fill-opacity=".5"/>
<rect x="1820.4" y="342.5" width="11" height="5.3" fill="rgb(0,0,0)" fill-opacity=".5"/>
<rect x="1814.9" y="282.1" width="22" height="48.1" fill="rgb(0,0,0)" fill-opacity=".5"/>
<rect x="1817.9" y="285.1" width="16" height="42.1" fill="none" stroke="rgb(0,0,0)" stroke-opacity=".5" stroke-width="6"/>
<rect x="1814.9" y="282.3" width="22" height="6" fill="rgb(0,0,0)" fill-opacity=".5"/>
<rect x="1849.5" y="279.35" width="6" height="7.65" fill="rgb(255,128,0)" fill-opacity=".5"/>
<rect x="1847" y="276.7" width="11" height="5.3" fill="rgb(255,128,0)" fill-opacity=".5"/>
<rect x="1849.5" y="340" width="6" height="60.55" fill="rgb(255,128,0)" fill-opacity=".5"/>
<rect x="1847" y="397.9" width="11" height="5.3" fill="rgb(255,128,0)" fill-opacity=".5"/>
<rect x="1841.5" y="287" width="22" height="53" fill="rgb(255,128,0)" fill-opacity=".5"/>
<rect x="1844.5" y="290" width="16" height="47" fill="none" stroke="rgb(255,128,0)" stroke-opacity=".5" stroke-width="6"/>
<rect x="1841.5" y="307.3" width="22" height="6" fill="rgb(255,128,0)" fill-opacity=".5"/>
<rect x="1876.1" y="289.65" width="6" height="64.95" fill="rgb(172,10,222)" fill-opacity=".5"/>
<rect x="1873.6" y="287" width="11" height="5.3" fill="rgb(172,10,222)" fill-opacity=".5"/>
<rect x="1876.1" y="416.7" width="6" height="14.25" fill="rgb(172,10,222)" fill-opacity=".5"/>
<rect x="1873.6" y="428.3" width="11" height="5.3" fill="rgb(172,10,222)" fill-opacity=".5"/>
<rect x="1868.1" y="354.6" width="22" height="62.1" fill="rgb(172,10,222)" fill-opacity=".5"/>
<rect x="1871.1" y="357.6" width="16" height="56.1" fill="none" stroke="rgb(172,10,222)" stroke-opacity=".5" stroke-width="6"/>
<rect x="1868.1" y="399.2" width="22" height="6" fill="rgb(172,10,222)" fill-opacity=".5"/>
<rect x="1902.05" y="305.85" width="6" height="16.95" fill="rgb(5,185,5)" fill-opacity=".5"/>
<rect x="1899.55" y="303.2" width="11" height="5.3" fill="rgb(5,185,5)" fill-opacity=".5"/>
<rect x="1902.05" y="450" width="6" height="12.35" fill="rgb(5,185,5)" fill-opacity=".5"/>
<rect x="1899.55" y="459.7" width="11" height="5.3" fill="rgb(5,185,5)" fill-opacity=".5"/>
<rect x="1894.05" y="322.8" width="22" height="127.2" fill="rgb(5,185,5)" fill-opacity=".5"/>
<rect x="1897.05" y="325.8" width="16" height="121.2" fill="none" stroke="rgb(5,185,5)" stroke-opacity=".5" stroke-width="6"/>
<rect x="1894.05" y="366.5" width="22" height="6" fill="rgb(5,185,5)" fill-opacity=".5"/>
<rect x="1950.65" y="333.45" width="6" height="19.35" fill="rgb(0,0,255)" fill-opacity=".5"/>
<rect x="1948.15" y="330.8" width="11" height="5.3" fill="rgb(0,0,255)" fill-opacity=".5"/>
<rect x="1950.65" y="399.1" width="6" height="12.75" fill="rgb(0,0,255)" fill-opacity=".5"/>
<rect x="1948.15" y="409.2" width="11" height="5.3" fill="rgb(0,0,255)" fill-opacity=".5"/>
<rect x="1942.65" y="352.8" width="22" height="46.3" fill="rgb(0,0,255)" fill-opacity=".5"/>
<rect x="1945.65" y="355.8" width="16" height="40.3" fill="none" stroke="rgb(0,0,255)" stroke-opacity=".5" stroke-width="6"/>
<rect x="1942.65" y="383.4" width="22" height="6" fill="rgb(0,0,255)" fill-opacity=".5"/>
<rect x="1977.2" y="297.65" width="6" height="4.95" fill="rgb(255,0,0)" fill-opacity=".5"/>
<rect x="1974.7" y="295" width="11" height="5.3" fill="rgb(255,0,0)" fill-opacity=".5"/>
<rect x="1977.2" y="353.3" width="6" height="22.35" fill="rgb(255,0,0)" fill-opacity=".5"/>
<rect x="1974.7" y="373" width="11" height="5.3" fill="rgb(255,0,0)" fill-opacity=".5"/>
<rect x="1969.2" y="302.6" width="22" height="50.7" fill="rgb(255,0,0)" fill-opacity=".5"/>
<rect x="1972.2" y="305.6" width="16" height="44.7" fill="none" stroke="rgb(255,0,0)" stroke-opacity=".5" stroke-width="6"/>
<rect x="1969.2" y="323.8" width="22" height="6" fill="rgb(255,0,0)" fill-opacity=".5"/>
<rect x="2003.9" y="311.85" width="6" height="7.65" fill="rgb(148,92,24)" fill-opacity=".5"/>
<rect x="2001.4" y="309.2" width="11" height="5.3" fill="rgb(148,92,24)" fill-opacity=".5"/>
<rect x="2003.9" y="402.3" width="6" height="6.65" fill="rgb(148,92,24)" fill-opacity=".5"/>
<rect x="2001.4" y="406.3" width="11" height="5.3" fill="rgb(148,92,24)" fill-opacity=".5"/>
<rect x="1995.9" y="319.5" width="22" height="82.8" fill="rgb(148,92,24)" fill-opacity=".5"/>
<rect x="1998.9" y="322.5" width="16" height="76.8" fill="none" stroke="rgb(148,92,24)" stroke-opacity=".5" stroke-width="6"/>
<rect x="1995.9" y="360.1" width="22" height="6" fill="rgb(148,92,24)" fill-opacity=".5"/>
<rect x="2030.6" y="320.45" width="6" height="6.85" fill="rgb(0,0,0)" fill-opacity=".5"/>
<rect x="2028.1" y="317.8" width="11" height="5.3" fill="rgb(0,0,0)" fill-opacity=".5"/>
<rect x="2030.6" y="365.5" width="6" height="15.05" fill="rgb(0,0,0)" fill-opacity=".5"/>
<rect x="2028.1" y="377.9" width="11" height="5.3" fill="rgb(0,0,0)" fill-opacity=".5"/>
<rect x="2022.6" y="327.3" width="22" height="38.2" fill="rgb(0,0,0)" fill-opacity=".5"/>
<rect x="2025.6" y="330.3" width="16" height="32.2" fill="none" stroke="rgb(0,0,0)" stroke-opacity=".5" stroke-width="6"/>
<rect x="2022.6" y="354.6" width="22" height="6" fill="rgb(0,0,0)" fill-opacity=".5"/>
<rect x="2056.85" y="283.65" width="6" height="21.35" fill="rgb(255,128,0)" fill-opacity=".5"/>
<rect x="2054.35" y="281" width="11" height="5.3" fill="rgb(255,128,0)" fill-opacity=".5"/>
<rect x="2056.85" y="407.7" width="6" height="15.25" fill="rgb(255,128,0)" fill-opacity=".5"/>
<rect x="2054.35" y="420.3" width="11" height="5.3" fill="rgb(255,128,0)" fill-opacity=".5"/>
<rect x="2048.85" y="305" width="22" height="102.7" fill="rgb(255,128,0)" fill-opacity=".5"/>
<rect x="2051.85" y="308" width="16" height="96.7" fill="none" stroke="rgb(255,128,0)" stroke-opacity=".5" stroke-width="6"/>
<rect x="2048.85" y="368.2" width="22" height="6" fill="rgb(255,128,0)" fill-opacity=".5"/>
<rect x="2083.45" y="286.65" width="6" height="62.45" fill="rgb(172,10,222)" fill-opacity=".5"/>
<rect x="2080.95" y="284" width="11" height="5.3" fill="rgb(172,10,222)" fill-opacity=".5"/>
<rect x="2083.45" y="423.8" width="6" height="3.25" fill="rgb(172,10,222)" fill-opacity=".5"/>
<rect x="2080.95" y="424.4" width="11" height="5.3" fill="rgb(172,10,222)" fill-opacity=".5"/>
<rect x="2075.45" y="349.1" width="22" height="74.7" fill="rgb(172,10,222)" fill-opacity=".5"/>
<rect x="2078.45" y="352.1" width="16" height="68.7" fill="none" stroke="rgb(172,10,222)" stroke-opacity=".5" stroke-width="6"/>
<rect x="2075.45" y="394.4" width="22" height="6" fill="rgb(172,10,222)" fill-opacity=".5"/>
<rect x="2110" y="349.85" width="6" height="18.65" fill="rgb(5,185,5)" fill-opacity=".5"/>
<rect x="2107.5" y="347.2" width="11" height="5.3" fill="rgb(5,185,5)" fill-opacity=".5"/>
<rect x="2110" y="435" width="6" height="40.85" fill="rgb(5,185,5)" fill-opacity=".5"/>
<rect x="2107.5" y="473.2" width="11" height="5.3" fill="rgb(5,185,5)" fill-opacity=".5"/>
<rect x="2102" y="368.5" width="22" height="66.5" fill="rgb(5,185,5)" fill-opacity=".5"/>
<rect x="2105" y="371.5" width="16" height="60.5" fill="none" stroke="rgb(5,185,5)" stroke-opacity=".5" stroke-width="6"/>
<rect x="2102" y="391.2" width="22" height="6" fill="rgb(5,185,5)" fill-opacity=".5"/>
<rect x="2158.2" y="387.65" width="6" height="40.95" fill="rgb(0,0,255)" fill-opacity=".5"/>
<rect x="2155.7" y="385" width="11" height="5.3" fill="rgb(0,0,255)" fill-opacity=".5"/>
<rect x="2158.2" y="545.8" width="6" height="2.25" fill="rgb(0,0,255)" fill-opacity=".5"/>
<rect x="2155.7" y="545.4" width="11" height="5.3" fill="rgb(0,0,255)" fill-opacity=".5"/>
<rect x="2150.2" y="428.6" width="22" height="117.2" fill="rgb(0,0,255)" fill-opacity=".5"/>
<rect x="2153.2" y="431.6" width="16" height="111.2" fill="none" stroke="rgb(0,0,255)" stroke-opacity=".5" stroke-width="6"/>
<rect x="2150.2" y="453.8" width="22" height="6" fill="rgb(0,0,255)" fill-opacity=".5"/>
<rect x="2185.15" y="193.85" width="6" height="50.95" fill="rgb(255,0,0)" fill-opacity=".5"/>
<rect x="2182.65" y="191.2" width="11" height="5.3" fill="rgb(255,0,0)" fill-opacity=".5"/>
<rect x="2185.15" y="317.7" width="6" height="81.35" fill="rgb(255,0,0)" fill-opacity=".5"/>
<rect x="2182.65" y="396.4" width="11" height="5.3" fill="rgb(255,0,0)" fill-opacity=".5"/>
<rect x="2177.15" y="244.8" width="22" height="72.9" fill="rgb(255,0,0)" fill-opacity=".5"/>
<rect x="2180.15" y="247.8" width="16" height="66.9" fill="none" stroke="rgb(255,0,0)" stroke-opacity=".5" stroke-width="6"/>
<rect x="2177.15" y="271.9" width="22" height="6" fill="rgb(255,0,0)" fill-opacity=".5"/>
<rect x="2211.6" y="298.45" width="6" height="33.35" fill="rgb(148,92,24)" fill-opacity=".5"/>
<rect x="2209.1" y="295.8" width="11" height="5.3" fill="rgb(148,92,24)" fill-opacity=".5"/>
<rect x="2211.6" y="364.2" width="6" height="12.75" fill="rgb(148,92,24)" fill-opacity=".5"/>
<rect x="2209.1" y="374.3" width="11" height="5.3" fill="rgb(148,92,24)" fill-opacity=".5"/>
<rect x="2203.6" y="331.8" width="22" height="32.4" fill="rgb(148,92,24)" fill-opacity=".5"/>
<rect x="2206.6" y="334.8" width="16" height="26.4" fill="none" stroke="rgb(148,92,24)" stroke-opacity=".5" stroke-width="6"/>
<rect x="2203.6" y="355.3" width="22" height="6" fill="rgb(148,92,24)" fill-opacity=".5"/>
<rect x="2237.9" y="387.65" width="6" height="20.15" fill="rgb(0,0,0)" fill-opacity=".5"/>
<rect x="2235.4" y="385" width="11" height="5.3" fill="rgb(0,0,0)" fill-opacity=".5"/>
<rect x="2237.9" y="547.2" width="6" height="41.55" fill="rgb(0,0,0)" fill-opacity=".5"/>
<rect x="2235.4" y="586.1" width="11" height="5.3" fill="rgb(0,0,0)" fill-opacity=".5"/>
<rect x="2229.9" y="407.8" width="22" height="139.4" fill="rgb(0,0,0)" fill-opacity=".5"/>
<rect x="2232.9" y="410.8" width="16" height="133.4" fill="none" stroke="rgb(0,0,0)" stroke-opacity=".5" stroke-width="6"/>
<rect x="2229.9" y="458.4" width="22" height="6" fill="rgb(0,0,0)" fill-opacity=".5"/>
<rect x="2264.65" y="271.55" width="6" height="55.45" fill="rgb(255,128,0)" fill-opacity=".5"/>
<rect x="2262.15" y="268.9" width="11" height="5.3" fill="rgb(255,128,0)" fill-opacity=".5"/>
<rect x="2264.65" y="411" width="6" height="70.35" fill="rgb(255,128,0)" fill-opacity=".5"/>
<rect x="2262.15" y="478.7" width="11" height="5.3" fill="rgb(255,128,0)" fill-opacity=".5"/>
<rect x="2256.65" y="327" width="22" height="84" fill="rgb(255,128,0)" fill-opacity=".5"/>
<rect x="2259.65" y="330" width="16" height="78" fill="none" stroke="rgb(255,128,0)" stroke-opacity=".5" stroke-width="6"/>
<rect x="2256.65" y="363.2" width="22" height="6" fill="rgb(255,128,0)" fill-opacity=".5"/>
<rect x="2291.2" y="329.15" width="6" height="8.85" fill="rgb(172,10,222)" fill-opacity=".5"/>
<rect x="2288.7" y="326.5" width="11" height="5.3" fill="rgb(172,10,222)" fill-opacity=".5"/>
<rect x="2291.2" y="424.5" width="6" height="29.15" fill="rgb(172,10,222)" fill-opacity=".5"/>
<rect x="2288.7" y="451" width="11" height="5.3" fill="rgb(172,10,222)" fill-opacity=".5"/>
<rect x="2283.2" y="338" width="22" height="86.5" fill="rgb(172,10,222)" fill-opacity=".5"/>
<rect x="2286.2" y="341" width="16" height="80.5" fill="none" stroke="rgb(172,10,222)" stroke-opacity=".5" stroke-width="6"/>
<rect x="2283.2" y="375.9" width="22" height="6" fill="rgb(172,10,222)" fill-opacity=".5"/>
<rect x="2317.8" y="374.45" width="6" height="12.05" fill="rgb(5,185,5)" fill-opacity=".5"/>
<rect x="2315.3" y="371.8" width="11" height="5.3" fill="rgb(5,185,5)" fill-opacity=".5"/>
<rect x="2317.8" y="487.5" width="6" height="36.05" fill="rgb(5,185,5)" fill-opacity=".5"/>
<rect x="2315.3" y="520.9" width="11" height="5.3" fill="rgb(5,185,5)" fill-opacity=".5"/>
<rect x="2309.8" y="386.5" width="22" height="101" fill="rgb(5,185,5)" fill-opacity=".5"/>
<rect x="2312.8" y="389.5" width="16" height="95" fill="none" stroke="rgb(5,185,5)" stroke-opacity=".5" stroke-width="6"/>
<rect x="2309.8" y="429.6" width="22" height="6" fill="rgb(5,185,5)" fill-opacity=".5"/>
<rect x="1305.6" y="84.3" width="6.5" height="542.6" fill="#000"/>
<rect x="1290.7" y="620.9" width="1055.3" height="5.8" fill="#000"/>
<rect x="1290.7" y="621.2" width="16" height="5.6" fill="#000"/>
<text transform="translate(1285.5,635.5) scale(1.08,1)" font-size="32" text-anchor="end">0.4</text>
<rect x="1290.7" y="487.05" width="16" height="5.6" fill="#000"/>
<text transform="translate(1285.5,501.35) scale(1.08,1)" font-size="32" text-anchor="end">0.5</text>
<rect x="1290.7" y="352.9" width="16" height="5.6" fill="#000"/>
<text transform="translate(1285.5,367.2) scale(1.08,1)" font-size="32" text-anchor="end">0.6</text>
<rect x="1290.7" y="218.75" width="16" height="5.6" fill="#000"/>
<text transform="translate(1285.5,233.05) scale(1.08,1)" font-size="32" text-anchor="end">0.7</text>
<rect x="1290.7" y="84.6" width="16" height="5.6" fill="#000"/>
<text transform="translate(1285.5,98.9) scale(1.08,1)" font-size="32" text-anchor="end">0.8</text>
<rect x="1407.1" y="624" width="6.2" height="16.6" fill="#000"/>
<text class="serif" transform="translate(1408.2,675) scale(1.08,1)" font-size="33" text-anchor="middle">1</text>
<rect x="1614.9" y="624" width="6.2" height="16.6" fill="#000"/>
<text class="serif" transform="translate(1617,675) scale(1.08,1)" font-size="33" text-anchor="middle">14</text>
<rect x="1822.2" y="624" width="6.2" height="16.6" fill="#000"/>
<text class="serif" transform="translate(1825.3,675) scale(1.08,1)" font-size="33" text-anchor="middle">16</text>
<rect x="2029.9" y="624" width="6.2" height="16.6" fill="#000"/>
<text class="serif" transform="translate(2033,675) scale(1.08,1)" font-size="33" text-anchor="middle">18</text>
<rect x="2237.4" y="624" width="6.2" height="16.6" fill="#000"/>
<text class="serif" transform="translate(2240.5,675) scale(1.08,1)" font-size="33" text-anchor="middle">21</text>
<text transform="translate(1826,718) scale(1.08,1)" font-size="32" text-anchor="middle">Time(d)</text>
<text transform="translate(1221.6,356.8) rotate(-90) scale(1,1.12)" font-size="32" text-anchor="middle">Fecal moisture content(%)</text>
<text x="1180" y="43" font-size="48">B</text>
<text transform="translate(1564.2,170.5) scale(1.08,1)" font-size="24" text-anchor="middle">A</text>
<text transform="translate(1590.9,156) scale(1.08,1)" font-size="24" text-anchor="middle">A</text>
<text transform="translate(1617,166.1) scale(1.08,1)" font-size="24" text-anchor="middle">A</text>
<text transform="translate(1645.7,157.3) scale(1.08,1)" font-size="24" text-anchor="middle">A</text>
<text transform="translate(1672,179.3) scale(1.08,1)" font-size="24" text-anchor="middle">A</text>
<text transform="translate(1698.5,190.6) scale(1.08,1)" font-size="24" text-anchor="middle">A</text>
<text transform="translate(1773.9,220.6) scale(1.08,1)" font-size="24" text-anchor="middle">A</text>
<text transform="translate(1799.9,259.1) scale(1.08,1)" font-size="24" text-anchor="middle">A</text>
<text transform="translate(1826.9,268.2) scale(1.08,1)" font-size="24" text-anchor="middle">A</text>
<text transform="translate(1853.9,274.3) scale(1.08,1)" font-size="24" text-anchor="middle">A</text>
<text transform="translate(1878.4,279.9) scale(1.08,1)" font-size="24" text-anchor="middle">b</text>
<text transform="translate(2187.4,185.5) scale(1.08,1)" font-size="24" text-anchor="middle">A</text>
<text transform="translate(2215.6,287.2) scale(1.08,1)" font-size="24" text-anchor="middle">A</text>
<text transform="translate(2242.4,380.1) scale(1.08,1)" font-size="24" text-anchor="middle">B</text>
<text transform="translate(2267.3,263.3) scale(1.08,1)" font-size="24" text-anchor="middle">ab</text>
<text transform="translate(2321.2,367.9) scale(1.08,1)" font-size="24" text-anchor="middle">B</text>
<rect x="2368.2" y="85.1" width="38.3" height="13.6" fill="rgb(0,0,255)" fill-opacity=".5" stroke="rgb(0,0,255)" stroke-opacity=".5" stroke-width="6.3"/>
<text transform="translate(2434.5,102.9) scale(1.02,1)" font-size="33">CN</text>
<rect x="2368.2" y="119.17" width="38.3" height="13.6" fill="rgb(255,0,0)" fill-opacity=".5" stroke="rgb(255,0,0)" stroke-opacity=".5" stroke-width="6.3"/>
<text transform="translate(2434.5,136.97) scale(1.02,1)" font-size="33">NR</text>
<rect x="2368.2" y="153.24" width="38.3" height="13.6" fill="rgb(148,92,24)" fill-opacity=".5" stroke="rgb(148,92,24)" stroke-opacity=".5" stroke-width="6.3"/>
<text transform="translate(2434.5,171.04) scale(1.02,1)" font-size="33">SW</text>
<rect x="2368.2" y="187.31" width="38.3" height="13.6" fill="rgb(0,0,0)" fill-opacity=".5" stroke="rgb(0,0,0)" stroke-opacity=".5" stroke-width="6.3"/>
<text transform="translate(2434.5,205.11) scale(1.02,1)" font-size="33">SH</text>
<rect x="2368.2" y="221.38" width="38.3" height="13.6" fill="rgb(255,128,0)" fill-opacity=".5" stroke="rgb(255,128,0)" stroke-opacity=".5" stroke-width="6.3"/>
<text transform="translate(2434.5,239.18) scale(1.02,1)" font-size="33">SM</text>
<rect x="2368.2" y="255.45" width="38.3" height="13.6" fill="rgb(172,10,222)" fill-opacity=".5" stroke="rgb(172,10,222)" stroke-opacity=".5" stroke-width="6.3"/>
<text transform="translate(2434.5,273.25) scale(1.02,1)" font-size="33">SL</text>
<rect x="2368.2" y="289.52" width="38.3" height="13.6" fill="rgb(5,185,5)" fill-opacity=".5" stroke="rgb(5,185,5)" stroke-opacity=".5" stroke-width="6.3"/>
<text transform="translate(2434.5,307.32) scale(1.02,1)" font-size="33">SP</text>
</svg>
</body></html>
